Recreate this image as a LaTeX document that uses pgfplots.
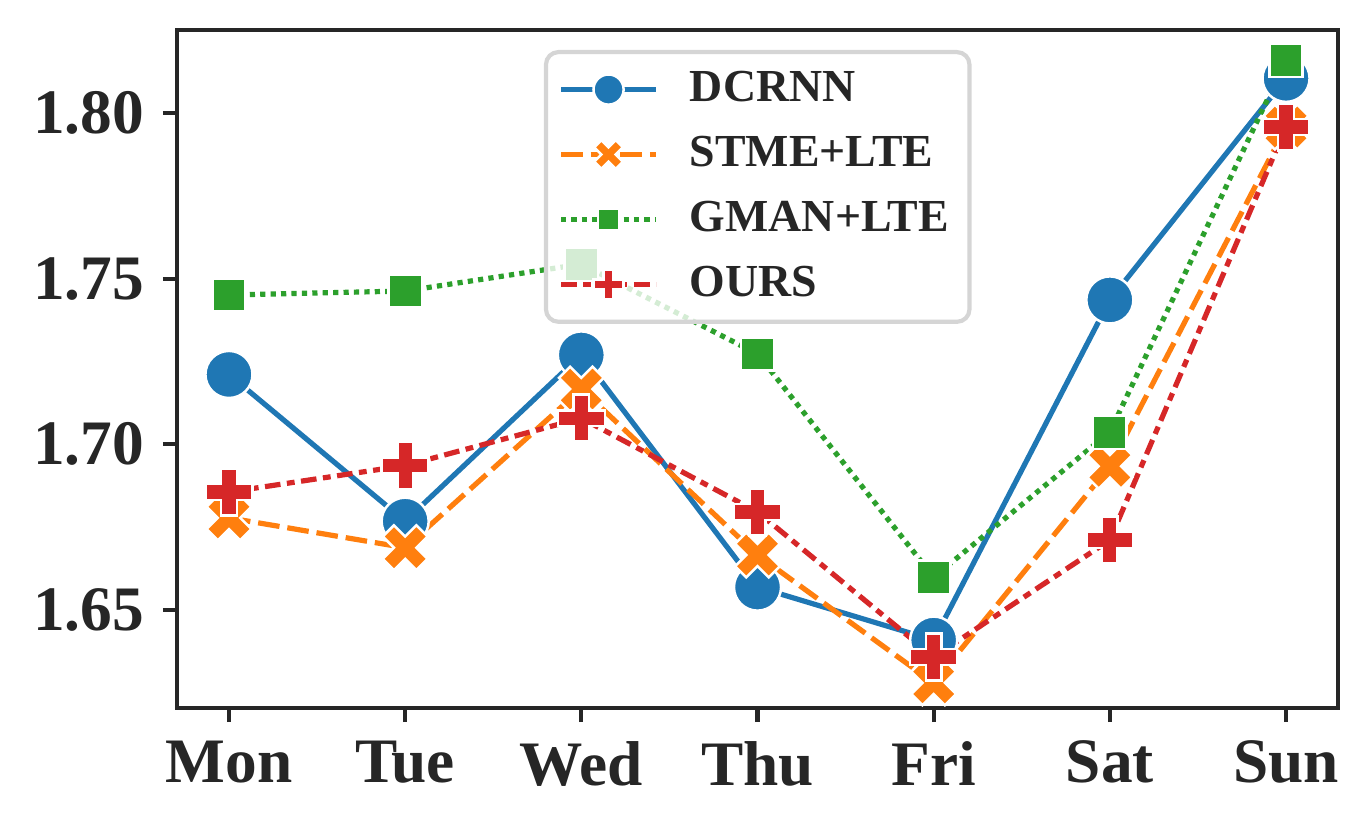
\documentclass[border=0pt]{standalone}
\usepackage{pgfplots}
\pgfplotsset{compat=1.18}
\usepackage{fontspec}
\setmainfont{Liberation Serif}
\definecolor{tabblue}{HTML}{1F77B4}
\definecolor{taborange}{HTML}{FF7F0E}
\definecolor{tabgreen}{HTML}{2CA02C}
\definecolor{tabred}{HTML}{D62728}
\definecolor{axgray}{HTML}{262626}
\definecolor{leggray}{HTML}{D5D5D5}
\pgfdeclareplotmark{Pfill}{%
  \pgfpathmoveto{\pgfpoint{0.3333*\pgfplotmarksize}{\pgfplotmarksize}}%
  \pgfpathlineto{\pgfpoint{0.3333*\pgfplotmarksize}{0.3333*\pgfplotmarksize}}%
  \pgfpathlineto{\pgfpoint{\pgfplotmarksize}{0.3333*\pgfplotmarksize}}%
  \pgfpathlineto{\pgfpoint{\pgfplotmarksize}{-0.3333*\pgfplotmarksize}}%
  \pgfpathlineto{\pgfpoint{0.3333*\pgfplotmarksize}{-0.3333*\pgfplotmarksize}}%
  \pgfpathlineto{\pgfpoint{0.3333*\pgfplotmarksize}{-\pgfplotmarksize}}%
  \pgfpathlineto{\pgfpoint{-0.3333*\pgfplotmarksize}{-\pgfplotmarksize}}%
  \pgfpathlineto{\pgfpoint{-0.3333*\pgfplotmarksize}{-0.3333*\pgfplotmarksize}}%
  \pgfpathlineto{\pgfpoint{-\pgfplotmarksize}{-0.3333*\pgfplotmarksize}}%
  \pgfpathlineto{\pgfpoint{-\pgfplotmarksize}{0.3333*\pgfplotmarksize}}%
  \pgfpathlineto{\pgfpoint{-0.3333*\pgfplotmarksize}{0.3333*\pgfplotmarksize}}%
  \pgfpathlineto{\pgfpoint{-0.3333*\pgfplotmarksize}{\pgfplotmarksize}}%
  \pgfpathclose
  \pgfusepathqfillstroke}
\pgfdeclareplotmark{Xfill}{%
  \pgftransformrotate{45}%
  \pgfuseplotmark{Pfill}}
\begin{document}
\begin{tikzpicture}
\useasboundingbox (-42.48pt,-28.8pt) rectangle (286.56pt,169.92pt);
\begin{axis}[
  at={(0pt,0pt)}, anchor=south west,
  scale only axis,
  width=278.64pt, height=162.72pt,
  xmin=-0.295, xmax=6.295,
  ymin=1.6204, ymax=1.8251,
  xtick={0,1,2,3,4,5,6},
  xticklabels={Mon,Tue,Wed,Thu,Fri,Sat,Sun},
  ytick={1.65,1.70,1.75,1.80},
  yticklabels={1.65,1.70,1.75,1.80},
  tick pos=left,
  tick align=outside,
  major tick length=3.4pt,
  every tick/.style={axgray, line width=1pt},
  axis line style={axgray, line width=1pt},
  ticklabel style={font=\bfseries\fontsize{15.2}{18}\selectfont, text=axgray},
  xticklabel style={yshift=-1pt},
  yticklabel style={xshift=-1pt},
  legend cell align=left,
  legend style={
    at={(0.316,0.9705)}, anchor=north west,
    draw=leggray, line width=1pt, rounded corners=3pt,
    fill=white, fill opacity=0.8, draw opacity=1, text opacity=1,
    font=\bfseries\fontsize{11}{13}\selectfont, text=axgray,
    inner xsep=3pt, inner ysep=2.6pt,
    row sep=2.8pt,
    /tikz/every odd column/.append style={column sep=5.5pt},
  },
  legend image code/.code={%
    \draw[fill opacity=1, draw opacity=1, #1, mark repeat=2, mark phase=2,
          every mark/.append style={scale=0.64}]
      plot coordinates {(0pt,0pt) (11.4pt,0pt) (22.8pt,0pt)};},
]
\addplot[tabblue, line width=1.25pt, solid, mark=*, mark size=5.65pt,
  mark options={solid, fill=tabblue, draw=white, line width=0.6pt}]
  coordinates {(0,1.7211) (1,1.6768) (2,1.7270) (3,1.6569) (4,1.6409) (5,1.7436) (6,1.8105)};
\addlegendentry{DCRNN}
\addplot[taborange, line width=1.25pt, dash pattern=on 5.2pt off 1.9pt, mark=Xfill, mark size=5.7pt,
  mark options={solid, fill=taborange, draw=white, line width=0.6pt}]
  coordinates {(0,1.6778) (1,1.6688) (2,1.7167) (3,1.6666) (4,1.6280) (5,1.6934) (6,1.7958)};
\addlegendentry{STME+LTE}
\addplot[tabgreen, line width=1.25pt, dash pattern=on 1.25pt off 1.25pt, mark=square*, mark size=4pt,
  mark options={solid, fill=tabgreen, draw=white, line width=0.6pt}]
  coordinates {(0,1.7451) (1,1.7463) (2,1.7544) (3,1.7273) (4,1.6599) (5,1.7037) (6,1.8160)};
\addlegendentry{GMAN+LTE}
\addplot[tabred, line width=1.25pt, dash pattern=on 3.75pt off 1.56pt on 1.875pt off 1.56pt, mark=Pfill, mark size=5.65pt,
  mark options={solid, fill=tabred, draw=white, line width=0.6pt}]
  coordinates {(0,1.6856) (1,1.6936) (2,1.7079) (3,1.6796) (4,1.6358) (5,1.6711) (6,1.7958)};
\addlegendentry{OURS}
\end{axis}
\end{tikzpicture}
\end{document}
